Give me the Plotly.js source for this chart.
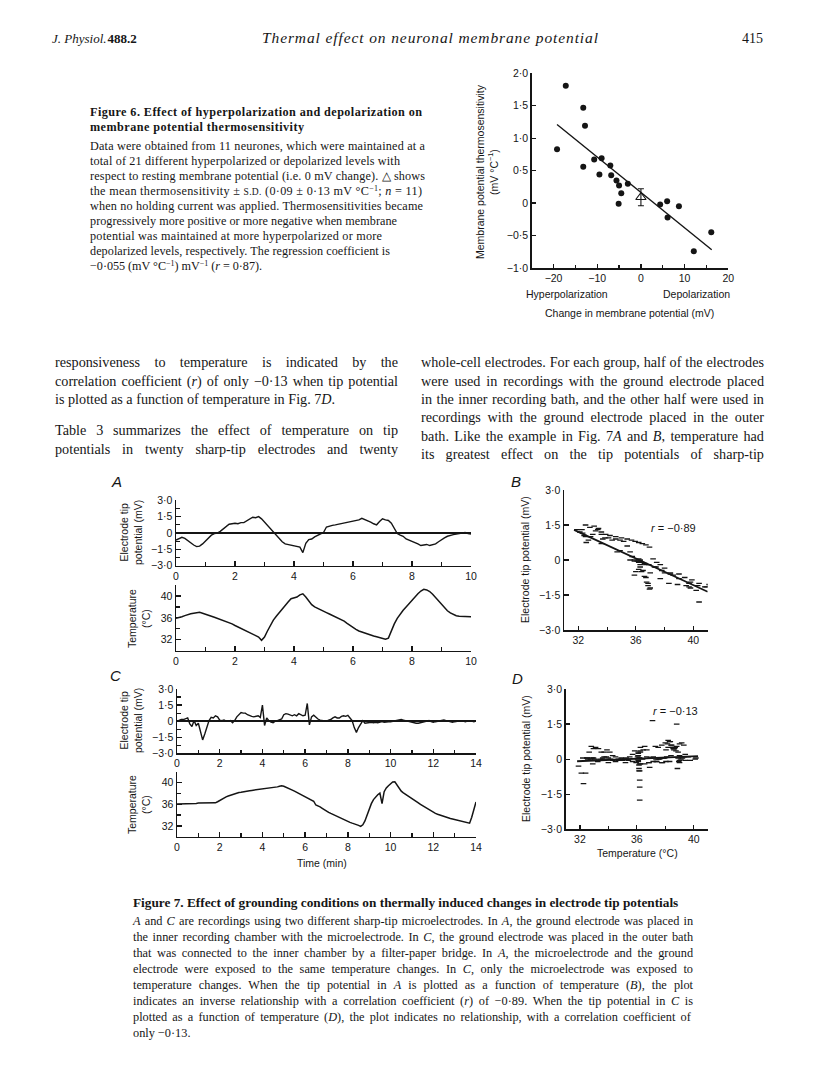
<!DOCTYPE html>
<html><head><meta charset="utf-8">
<script src="https://cdn.plot.ly/plotly-3.0.1.min.js"></script>
<style>
html,body{margin:0;padding:0;background:#fff;}
#page{position:relative;width:816px;height:1079px;overflow:hidden;background:#fff;}
#chart{position:absolute;left:0;top:0;width:816px;height:1079px;}
#txt{position:absolute;left:0;top:0;pointer-events:none;}
#txt text{fill:#161616;}
</style></head><body>
<div id="page">
<div id="chart"></div>
<svg id="txt" width="816" height="1079" xmlns="http://www.w3.org/2000/svg" font-family="Liberation Serif, Times New Roman, serif">
  <!-- running header -->
  <text x="52" y="43" font-size="13"><tspan font-style="italic">J. Physiol.</tspan><tspan font-weight="bold" dx="1">488.2</tspan></text>
  <text x="262" y="43" font-size="15.5" font-style="italic" textLength="336" lengthAdjust="spacing">Thermal effect on neuronal membrane potential</text>
  <text x="742" y="43" font-size="14">415</text>

  <!-- Figure 6 caption -->
  <g font-size="12.2">
    <text x="90" y="116" font-weight="bold" data-w="332" data-m="l">Figure 6. Effect of hyperpolarization and depolarization on</text>
    <text x="90" y="131" font-weight="bold" data-w="214" data-m="l">membrane potential thermosensitivity</text>
    <text x="90" y="150" data-w="335" data-m="l">Data were obtained from 11 neurones, which were maintained at a</text>
    <text x="90" y="165" data-w="310" data-m="l">total of 21 different hyperpolarized or depolarized levels with</text>
    <text x="90" y="180" data-w="335" data-m="l">respect to resting membrane potential (i.e. 0 mV change). △ shows</text>
    <text x="90" y="195" data-w="332" data-m="l">the mean thermosensitivity ± <tspan font-size="9.5">S.D.</tspan> (0·09 ± 0·13 mV °C<tspan dy="-4" font-size="8">−1</tspan><tspan dy="4">; </tspan><tspan font-style="italic">n</tspan> = 11)</text>
    <text x="90" y="210" data-w="333" data-m="l">when no holding current was applied. Thermosensitivities became</text>
    <text x="90" y="225" data-w="307" data-m="l">progressively more positive or more negative when membrane</text>
    <text x="90" y="240" data-w="292" data-m="l">potential was maintained at more hyperpolarized or more</text>
    <text x="90" y="255" data-w="300" data-m="l">depolarized levels, respectively. The regression coefficient is</text>
    <text x="90" y="270" data-w="172" data-m="l">−0·055 (mV °C<tspan dy="-4" font-size="8">−1</tspan><tspan dy="4">) mV</tspan><tspan dy="-4" font-size="8">−1</tspan><tspan dy="4"> (</tspan><tspan font-style="italic">r</tspan> = 0·87).</text>
  </g>

  <!-- body text, two columns -->
  <g font-size="14.2">
    <text x="55" y="367" data-w="343" data-m="j">responsiveness to temperature is indicated by the</text>
    <text x="55" y="386" data-w="343" data-m="j">correlation coefficient (<tspan font-style="italic">r</tspan>) of only −0·13 when tip potential</text>
    <text x="55" y="404">is plotted as a function of temperature in Fig. 7<tspan font-style="italic">D</tspan>.</text>
    <text x="55" y="435" data-w="343" data-m="j">Table 3 summarizes the effect of temperature on tip</text>
    <text x="55" y="454" data-w="343" data-m="j">potentials in twenty sharp-tip electrodes and twenty</text>

    <text x="421" y="367" data-w="343" data-m="j">whole-cell electrodes. For each group, half of the electrodes</text>
    <text x="421" y="386" data-w="343" data-m="j">were used in recordings with the ground electrode placed</text>
    <text x="421" y="404" data-w="343" data-m="j">in the inner recording bath, and the other half were used in</text>
    <text x="421" y="422" data-w="343" data-m="j">recordings with the ground electrode placed in the outer</text>
    <text x="421" y="441" data-w="343" data-m="j">bath. Like the example in Fig. 7<tspan font-style="italic">A</tspan> and <tspan font-style="italic">B</tspan>, temperature had</text>
    <text x="421" y="459" data-w="343" data-m="j">its greatest effect on the tip potentials of sharp-tip</text>
  </g>

  <!-- Figure 7 caption -->
  <g font-size="12.3">
    <text x="133" y="907" font-weight="bold" data-w="545" data-m="f">Figure 7. Effect of grounding conditions on thermally induced changes in electrode tip potentials</text>
    <text x="133" y="925" data-w="560" data-m="j"><tspan font-style="italic">A</tspan> and <tspan font-style="italic">C</tspan> are recordings using two different sharp-tip microelectrodes. In <tspan font-style="italic">A</tspan>, the ground electrode was placed in</text>
    <text x="133" y="941" data-w="560" data-m="j">the inner recording chamber with the microelectrode. In <tspan font-style="italic">C</tspan>, the ground electrode was placed in the outer bath</text>
    <text x="133" y="957" data-w="560" data-m="j">that was connected to the inner chamber by a filter-paper bridge. In <tspan font-style="italic">A</tspan>, the microelectrode and the ground</text>
    <text x="133" y="973" data-w="560" data-m="j">electrode were exposed to the same temperature changes. In <tspan font-style="italic">C</tspan>, only the microelectrode was exposed to</text>
    <text x="133" y="989" data-w="560" data-m="j">temperature changes. When the tip potential in <tspan font-style="italic">A</tspan> is plotted as a function of temperature (<tspan font-style="italic">B</tspan>), the plot</text>
    <text x="133" y="1005" data-w="560" data-m="j">indicates an inverse relationship with a correlation coefficient (<tspan font-style="italic">r</tspan>) of −0·89. When the tip potential in <tspan font-style="italic">C</tspan> is</text>
    <text x="133" y="1021" data-w="560" data-m="j">plotted as a function of temperature (<tspan font-style="italic">D</tspan>),  the plot indicates no relationship, with a correlation coefficient of</text>
    <text x="133" y="1037">only −0·13.</text>
  </g>
</svg>
</div>
<script>
// ---------------- Figure 6 data ----------------
const fig6Change = [-17.2,-19.2,-13.2,-12.8,-13.2,-10.7,-9.0,-9.5,-7.0,-6.8,-5.6,-5.0,-4.5,-5.1,-3.0,4.4,6.0,6.1,8.7,12.1,16.1];
const fig6Sens   = [1.81,0.83,1.47,1.19,0.56,0.67,0.69,0.44,0.58,0.43,0.35,0.27,0.15,-0.01,0.30,-0.02,0.03,-0.22,-0.05,-0.74,-0.45];
const fig6MeanX  = [0];
const fig6MeanY  = [0.09];
const fig6MeanSD = [0.13];
const fig6FitX   = [-19.2, 16.2];
const fig6FitY   = [1.21, -0.72];
const fig6XTicks = [-20,-10,0,10,20];
const fig6XLabels= ['−20','−10','0','10','20'];
const fig6XMinor = [-15,-5,5,15];
const fig6YTicks = [-1,-0.5,0,0.5,1,1.5,2];
const fig6YLabels= ['−1·0','−0·5','0','0·5','1·0','1·5','2·0'];

// ---------------- Figure 7 data ----------------
const SAMPLE_MIN = 0.1; // sampling interval of the traces (min)
// A: tip potential (mV) and bath temperature (°C), inner-chamber ground
const tipA = [
 -0.65,-0.5,-0.4,-0.5,-0.7,-0.95,-1.1,-1.25,-1.2,-1.0,
 -0.75,-0.45,-0.2,-0.05,0.0,0.15,0.35,0.6,0.8,0.85,
 0.9,0.85,0.95,0.95,1.1,1.3,1.45,1.4,1.5,1.3,
 1.0,0.7,0.35,0.0,-0.3,-0.55,-0.8,-1.0,-1.05,-1.1,
 -1.15,-1.2,-1.3,-1.8,-0.95,-0.6,-0.55,-0.35,-0.2,-0.1,
 0.05,0.55,0.65,0.7,0.75,0.8,0.85,0.9,0.95,1.0,
 1.05,1.1,1.2,1.35,1.25,1.1,1.0,0.85,0.75,1.05,
 1.3,1.2,1.15,0.9,0.4,-0.05,-0.2,-0.3,-0.55,-0.65,
 -0.75,-0.85,-1.0,-1.15,-1.1,-1.05,-1.15,-1.1,-1.0,-0.8,
 -0.6,-0.45,-0.3,-0.2,-0.15,-0.1,-0.05,0.0,0.05,-0.05,
 -0.1];
const tempA = [
 35.9,36.0,36.2,36.4,36.6,36.75,36.85,36.95,37.0,36.85,
 36.7,36.5,36.3,36.1,35.9,35.75,35.6,35.4,35.15,34.9,
 34.6,34.35,34.1,33.85,33.6,33.35,33.1,32.8,32.5,31.9,
 32.5,33.6,34.7,35.6,36.3,37.0,37.7,38.3,38.9,39.5,
 39.7,39.8,40.2,40.4,39.8,39.0,38.4,38.0,37.7,37.45,
 37.2,36.95,36.7,36.45,36.2,35.95,35.7,35.4,35.0,34.6,
 34.2,33.9,33.6,33.4,33.2,33.0,32.85,32.7,32.55,32.4,
 32.25,32.1,32.3,33.7,34.9,35.9,36.7,37.4,38.0,38.6,
 39.4,39.9,40.4,40.9,41.2,41.1,40.8,40.3,39.7,39.0,
 38.4,37.8,37.3,36.9,36.6,36.4,36.3,36.3,36.2,36.2,
 36.2];
// C: tip potential (mV) and temperature (°C), outer-bath ground
const tipC = [
 0.0,0.1,0.15,0.15,0.25,0.3,-0.25,-0.5,0.05,-0.4,
 -0.2,-0.9,-1.75,-1.2,-0.5,0.05,0.35,0.3,0.5,0.4,
 0.1,0.05,0.1,0.0,0.0,0.05,-0.15,0.05,0.4,0.65,
 0.8,0.75,0.75,0.6,0.5,0.45,0.4,0.45,0.5,0.35,
 1.5,-0.4,0.3,0.05,-0.1,-0.15,0.0,0.05,0.1,0.2,
 0.6,0.7,0.65,0.55,0.5,0.6,0.5,0.7,0.6,0.5,
 0.55,1.65,-0.35,0.4,0.55,0.35,0.2,0.1,0.05,0.0,
 0.0,0.1,0.15,0.3,0.4,0.3,0.3,0.45,0.5,0.45,
 0.55,0.3,0.05,-0.6,-1.05,-0.6,-0.3,0.05,-0.2,-0.15,
 -0.15,-0.1,-0.15,-0.1,-0.15,-0.1,-0.05,-0.1,-0.05,-0.05,
 -0.05,0.0,0.05,0.1,0.15,0.15,0.1,0.05,0.0,-0.1,
 -0.1,-0.15,-0.2,-0.2,-0.15,-0.1,-0.05,0.0,0.05,-0.05,
 -0.1,-0.05,0.0,0.05,0.1,0.1,0.05,0.0,-0.05,-0.1,
 -0.05,0.0,0.05,0.05,0.0,-0.05,0.0,0.05,0.0,-0.05,
 0.0];
const tempC = [
 36.05,36.05,36.1,36.1,36.1,36.1,36.15,36.15,36.15,36.15,
 36.2,36.2,36.2,36.2,36.2,36.2,36.25,36.25,36.25,36.45,
 36.7,36.95,37.15,37.35,37.5,37.65,37.8,37.95,38.05,38.15,
 38.2,38.3,38.35,38.45,38.5,38.55,38.6,38.65,38.7,38.75,
 38.8,38.85,38.9,38.9,38.95,39.0,39.1,39.2,39.3,39.4,
 39.3,39.15,39.0,38.8,38.6,38.4,38.2,38.0,37.75,37.5,
 37.3,37.1,36.9,36.7,36.55,35.85,35.7,35.5,35.25,34.95,
 34.7,34.5,34.3,34.1,33.9,33.7,33.5,33.3,33.1,32.95,
 32.8,32.65,32.5,32.4,32.25,32.1,31.9,32.2,32.9,34.0,
 35.2,36.1,36.85,37.35,37.75,38.05,36.1,38.3,39.0,39.4,
 39.75,40.1,40.15,39.6,39.0,38.4,38.1,37.85,37.6,37.4,
 37.15,36.85,36.55,36.25,35.95,35.7,35.4,35.15,34.9,34.7,
 34.5,34.3,34.15,34.0,33.85,33.7,33.6,33.45,33.35,33.25,
 33.15,33.05,32.95,32.85,32.75,32.65,32.55,32.5,33.6,35.0,
 36.4];
const fitBX = [31.7, 41.0], fitBY = [1.29, -1.36];
const fitDX = [31.8, 40.3], fitDY = [-0.09, 0.13];

const tipTicks  = [-3,-1.5,0,1.5,3];
const tipLabels = ['−3·0','−1·5','0','1·5','3·0'];
const tipMinor  = [-2.25,-0.75,0.75,2.25];
const tempTicks  = [32,36,40];
const tempLabels = ['32','36','40'];
const tempMinor  = [34,38,42];
const timeTicksA  = [0,2,4,6,8,10];
const timeLabelsA = ['0','2','4','6','8','10'];
const timeMinorA  = [1,3,5,7,9];
const timeTicksC  = [0,2,4,6,8,10,12,14];
const timeLabelsC = ['0','2','4','6','8','10','12','14'];
const timeMinorC  = [1,3,5,7,9,11,13];
const tempXTicks  = [32,36,40];
const tempXLabels = ['32','36','40'];
const tempXMinor  = [34,38];

const timeA = tipA.map((_, i) => +(i * SAMPLE_MIN).toFixed(2));
const timeC = tipC.map((_, i) => +(i * SAMPLE_MIN).toFixed(2));

// ---------------- layout helpers ----------------
const W = 816, H = 1079;
const SANS = 'Liberation Sans, Arial, Helvetica, sans-serif';
const INK = '#151515';
const xd = (a, b) => [a / W, b / W];
const yd = (top, bot) => [1 - bot / H, 1 - top / H];
function axis(dom, range, vals, text, minorVals, extra) {
  const a = {
    domain: dom, range: range, tickmode: 'array', tickvals: vals, ticktext: text,
    showline: true, linecolor: INK, linewidth: 1.5, ticks: 'inside', ticklen: 4.5,
    tickwidth: 1.3, tickcolor: INK, showgrid: false, zeroline: false,
    tickfont: {family: SANS, size: 10.5, color: INK}, fixedrange: true
  };
  if (minorVals && minorVals.length) {
    a.minor = {tickmode: 'array', tickvals: minorVals, ticks: 'inside', ticklen: 3.5,
               tickwidth: 1.2, tickcolor: INK, showgrid: false};
  }
  return Object.assign(a, extra || {});
}
function ann(text, x, y, opts) {
  return Object.assign({
    text: text, x: x / W, y: 1 - y / H, xref: 'paper', yref: 'paper', showarrow: false,
    xanchor: 'center', yanchor: 'middle', font: {family: SANS, size: 10.5, color: INK}
  }, opts || {});
}
const line = (x, y, xa, ya, w) => ({x: x, y: y, xaxis: xa, yaxis: ya, type: 'scatter', mode: 'lines',
  line: {color: INK, width: w || 1.4}, hoverinfo: 'skip'});
const dots = (x, y, xa, ya) => ({x: x, y: y, xaxis: xa, yaxis: ya, type: 'scatter', mode: 'markers',
  marker: {color: INK, size: 4, symbol: 'line-ew', line: {color: INK, width: 1.3}}, hoverinfo: 'skip'});

const traces = [
  // Figure 6
  {x: fig6Change, y: fig6Sens, xaxis: 'x', yaxis: 'y', type: 'scatter', mode: 'markers',
   marker: {color: INK, size: 6}},
  line(fig6FitX, fig6FitY, 'x', 'y', 1.4),
  {x: fig6MeanX, y: fig6MeanY, xaxis: 'x', yaxis: 'y', type: 'scatter', mode: 'markers',
   marker: {symbol: 'triangle-up-open', size: 9, color: INK, line: {width: 1.1, color: INK}},
   error_y: {type: 'data', array: fig6MeanSD, visible: true, color: INK, thickness: 1.1, width: 3}},
  // Fig 7 A
  line(timeA, tipA, 'x2', 'y2', 1.4),
  line(timeA, tempA, 'x3', 'y3', 1.5),
  // B
  dots(tempA, tipA, 'x4', 'y4'),
  line(fitBX, fitBY, 'x4', 'y4', 1.8),
  // C
  line(timeC, tipC, 'x5', 'y5', 1.4),
  line(timeC, tempC, 'x6', 'y6', 1.5),
  // D
  dots(tempC, tipC, 'x7', 'y7'),
  line(fitDX, fitDY, 'x7', 'y7', 1.8)
];

const zl = {zeroline: true, zerolinecolor: INK, zerolinewidth: 1.4};
const layout = {
  width: W, height: H, margin: {l: 0, r: 0, t: 0, b: 0}, showlegend: false,
  paper_bgcolor: 'rgba(0,0,0,0)', plot_bgcolor: 'rgba(0,0,0,0)',
  font: {family: SANS, color: INK},
  xaxis:  axis(xd(531.7, 728.3), [-25, 20], fig6XTicks, fig6XLabels, fig6XMinor, {anchor: 'y'}),
  yaxis:  axis(yd(73.3, 268), [-1, 2], fig6YTicks, fig6YLabels, null, {anchor: 'x'}),
  xaxis2: axis(xd(176, 471), [0, 10], timeTicksA, timeLabelsA, timeMinorA, {anchor: 'y2'}),
  yaxis2: axis(yd(500.3, 565.7), [-3, 3], tipTicks, tipLabels, tipMinor, Object.assign({anchor: 'x2'}, zl)),
  xaxis3: axis(xd(176, 471), [0, 10], timeTicksA, timeLabelsA, timeMinorA, {anchor: 'y3'}),
  yaxis3: axis(yd(585, 650.7), [30, 42], tempTicks, tempLabels, tempMinor, {anchor: 'x3'}),
  xaxis4: axis(xd(564, 707.7), [31, 41], tempXTicks, tempXLabels, tempXMinor, {anchor: 'y4'}),
  yaxis4: axis(yd(490, 630), [-3, 3], tipTicks, tipLabels, null, {anchor: 'x4'}),
  xaxis5: axis(xd(177, 476), [0, 14], timeTicksC, timeLabelsC, timeMinorC, {anchor: 'y5'}),
  yaxis5: axis(yd(689, 753.3), [-3, 3], tipTicks, tipLabels, tipMinor, Object.assign({anchor: 'x5'}, zl)),
  xaxis6: axis(xd(177, 476), [0, 14], timeTicksC, timeLabelsC, timeMinorC, {anchor: 'y6'}),
  yaxis6: axis(yd(771.7, 836.7), [30, 42], tempTicks, tempLabels, tempMinor, {anchor: 'x6'}),
  xaxis7: axis(xd(565.7, 708), [31, 41], tempXTicks, tempXLabels, tempXMinor, {anchor: 'y7'}),
  yaxis7: axis(yd(689, 829.3), [-3, 3], tipTicks, tipLabels, null, {anchor: 'x7'}),
  annotations: [
    ann('Membrane potential thermosensitivity<br>(mV °C<sup>−1</sup>)', 487, 172, {textangle: -90}),
    ann('Hyperpolarization', 566.7, 294.5),
    ann('Depolarization', 696.7, 294.5),
    ann('Change in membrane potential (mV)', 629.3, 313),
    ann('<i>A</i>', 117, 482, {font: {family: SANS, size: 15, color: INK}}),
    ann('<i>B</i>', 516, 482, {font: {family: SANS, size: 15, color: INK}}),
    ann('<i>C</i>', 115, 675, {font: {family: SANS, size: 15, color: INK}}),
    ann('<i>D</i>', 517, 678, {font: {family: SANS, size: 15, color: INK}}),
    ann('Electrode tip<br>potential (mV)', 131, 533, {textangle: -90}),
    ann('Temperature<br>(°C)', 139, 619, {textangle: -90}),
    ann('Electrode tip<br>potential (mV)', 131, 721, {textangle: -90}),
    ann('Temperature<br>(°C)', 139, 805, {textangle: -90}),
    ann('Electrode tip potential (mV)', 525, 560, {textangle: -90}),
    ann('Electrode tip potential (mV)', 526, 759, {textangle: -90}),
    ann('<i>r</i> = −0·89', 673, 528, {font: {family: SANS, size: 11, color: INK}}),
    ann('<i>r</i> = −0·13', 675, 711, {font: {family: SANS, size: 11, color: INK}}),
    ann('Time (min)', 322, 863),
    ann('Temperature (°C)', 637, 853)
  ]
};

Plotly.newPlot('chart', traces, layout, {staticPlot: true, displayModeBar: false});

// fit caption / body lines to their measured widths
//  j: justify with word spacing, l: letter spacing (textLength), f: scale font size
function fitLines() {
  document.querySelectorAll('#txt text[data-w]').forEach(t => {
    const target = +t.getAttribute('data-w');
    const mode = t.getAttribute('data-m') || 'j';
    t.removeAttribute('word-spacing');
    t.removeAttribute('textLength');
    let nat = t.getComputedTextLength();
    if (mode === 'l') {
      t.setAttribute('textLength', target);
      t.setAttribute('lengthAdjust', 'spacing');
      return;
    }
    if (mode === 'f' || nat > target) {
      const fs = parseFloat(getComputedStyle(t).fontSize);
      t.setAttribute('font-size', (fs * target / nat).toFixed(2));
      nat = t.getComputedTextLength();
      if (mode === 'f') return;
    }
    const spaces = (t.textContent.match(/ /g) || []).length;
    if (spaces > 0) t.setAttribute('word-spacing', ((target - nat) / spaces).toFixed(2));
  });
}
fitLines();
if (document.fonts && document.fonts.ready) document.fonts.ready.then(fitLines);
</script>
</body></html>
